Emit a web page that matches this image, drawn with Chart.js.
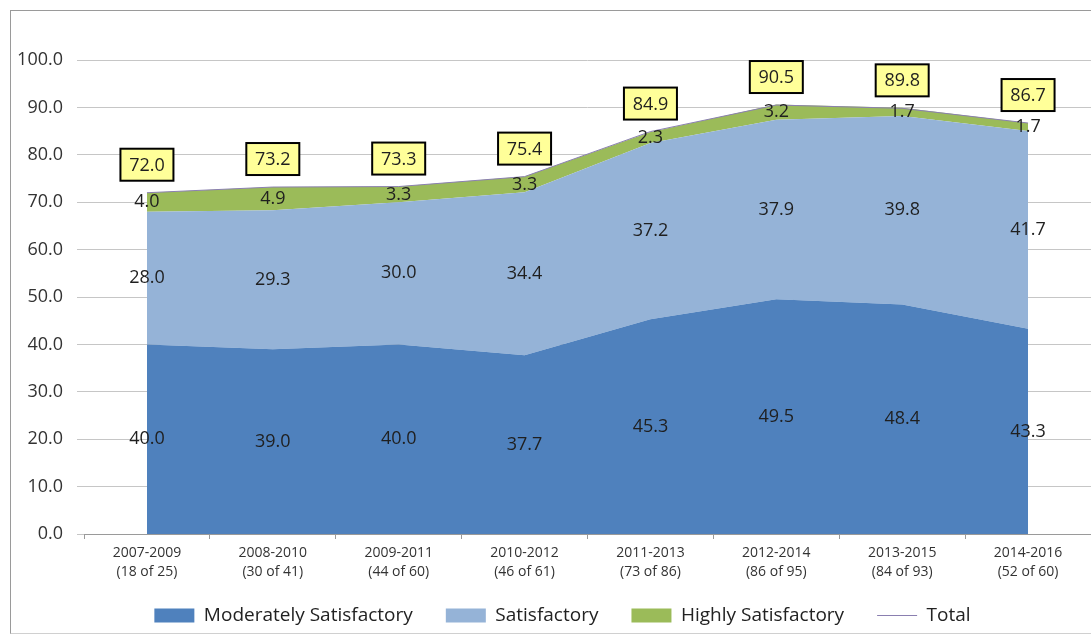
<!DOCTYPE html>
<html><head><meta charset="utf-8">
<script src="https://cdn.jsdelivr.net/npm/chart.js@4.4.1/dist/chart.umd.min.js"></script>
<style>
html,body{margin:0;padding:0;background:#fff;}
#wrap{position:absolute;left:0;top:0;width:1091px;height:638px;}
#frame{position:absolute;left:10px;top:10px;width:1100px;height:622px;border-top:1px solid #9a9a9a;border-left:1px solid #9a9a9a;border-bottom:1px solid #d0d0d0;}
canvas{position:absolute;left:0;top:0;}
</style></head>
<body><div id="wrap"><div id="frame"></div><canvas id="c" width="1091" height="638"></canvas></div>
<script>
const categories = [["2007-2009","(18 of 25)"],["2008-2010","(30 of 41)"],["2009-2011","(44 of 60)"],["2010-2012","(46 of 61)"],["2011-2013","(73 of 86)"],["2012-2014","(86 of 95)"],["2013-2015","(84 of 93)"],["2014-2016","(52 of 60)"]];
const moderately = [40.0, 39.0, 40.0, 37.7, 45.3, 49.5, 48.4, 43.3];
const satisfactory = [28.0, 29.3, 30.0, 34.4, 37.2, 37.9, 39.8, 41.7];
const highly = [4.0, 4.9, 3.3, 3.3, 2.3, 3.2, 1.7, 1.7];
const total = [72.0, 73.2, 73.3, 75.4, 84.9, 90.5, 89.8, 86.7];
const yTicks = [0,10,20,30,40,50,60,70,80,90,100];

const FONT = "'Open Sans', sans-serif";

const noClip = {
  id: 'noClip',
  beforeDraw(chart) {
    ['x','y'].forEach(k => {
      const s = chart.scales[k];
      if (s) s._computeLabelArea = () => undefined;
    });
  }
};

const labelPlugin = {
  id: 'labels',
  afterDatasetsDraw(chart) {
    const ctx = chart.ctx;
    const y = chart.scales.y;
    ctx.save();
    ctx.font = "18px " + FONT;
    ctx.textAlign = 'center';
    ctx.textBaseline = 'middle';
    ctx.fillStyle = '#1f1f1f';
    [0,1,2].forEach(di => {
      const meta = chart.getDatasetMeta(di);
      const vals = chart.data.datasets[di].data;
      meta.data.forEach((pt, i) => {
        let base = 0;
        for (let k = 0; k < di; k++) base += chart.data.datasets[k].data[i];
        const py = y.getPixelForValue(base + vals[i] / 2);
        ctx.fillText(vals[i].toFixed(1), pt.x, py);
      });
    });
    const tmeta = chart.getDatasetMeta(3);
    tmeta.data.forEach((pt, i) => {
      const cx = pt.x, cy = pt.y - 28;
      const w = 53, h = 32;
      ctx.fillStyle = '#FFFF99';
      ctx.fillRect(cx - w/2, cy - h/2, w, h);
      ctx.lineWidth = 2;
      ctx.strokeStyle = '#000';
      ctx.strokeRect(cx - w/2, cy - h/2, w, h);
      ctx.fillStyle = '#1f1f1f';
      ctx.fillText(total[i].toFixed(1), cx, cy + 1);
    });
    ctx.restore();
  }
};

new Chart(document.getElementById('c'), {
  type: 'line',
  data: {
    labels: categories,
    datasets: [
      {label: 'Moderately Satisfactory', data: moderately, backgroundColor: '#4F81BD', borderColor: '#4F81BD', borderWidth: 0, fill: 'origin', pointRadius: 0, pointStyle: 'rect', stack: 'a', tension: 0},
      {label: 'Satisfactory', data: satisfactory, backgroundColor: '#95B3D7', borderColor: '#95B3D7', borderWidth: 0, fill: '-1', pointRadius: 0, pointStyle: 'rect', stack: 'a', tension: 0},
      {label: 'Highly Satisfactory', data: highly, backgroundColor: '#9BBB59', borderColor: '#9BBB59', borderWidth: 0, fill: '-1', pointRadius: 0, pointStyle: 'rect', stack: 'a', tension: 0},
      {label: 'Total', data: total, borderColor: '#8a7fb0', backgroundColor: '#8a7fb0', borderWidth: 1, fill: false, pointRadius: 0, pointStyle: 'line', stack: 'total', order: -1, tension: 0}
    ]
  },
  options: {
    responsive: false,
    animation: false,
    layout: {padding: {top: 60, right: 0, left: 34, bottom: 3}},
    plugins: {
      tooltip: {enabled: false},
      legend: {
        position: 'bottom',
        labels: {
          usePointStyle: true, pointStyleWidth: 40, boxHeight: 14,
          font: {family: FONT, size: 19}, color: '#222', padding: 33,
          sort: (a, b) => a.datasetIndex - b.datasetIndex
        }
      }
    },
    scales: {
      x: {
        offset: true,
        grid: {offset: true, drawOnChartArea: false, tickLength: 5, color: '#9a9a9a'},
        border: {color: '#9a9a9a'},
        ticks: {font: {family: FONT, size: 14, lineHeight: 1.35}, color: '#333', maxRotation: 0, padding: 5},
        afterFit: s => { s.height = 39; }
      },
      y: {
        stacked: true,
        min: 0, max: 100,
        afterBuildTicks: s => { s.ticks = yTicks.map(v => ({value: v})); },
        grid: {color: '#c6c6c6', tickLength: 7},
        border: {display: false},
        ticks: {font: {family: FONT, size: 18}, color: '#333', padding: 14, callback: v => Number(v).toFixed(1)},
        afterFit: s => { s.width = 50; }
      }
    }
  },
  plugins: [noClip, labelPlugin]
});
</script></body></html>
